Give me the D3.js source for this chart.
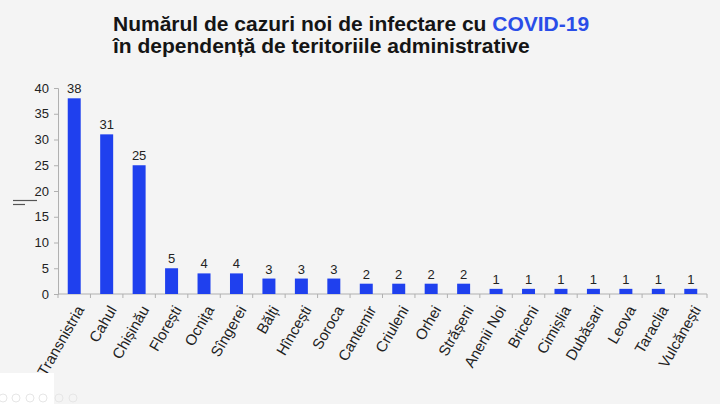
<!DOCTYPE html>
<html><head><meta charset="utf-8">
<script src="https://cdn.jsdelivr.net/npm/d3@7"></script>
<style>html,body{margin:0;padding:0;background:#f4f4f4;}svg{display:block;}</style>
</head><body>
<svg id="c" width="720" height="404"></svg>
<script>
const categories = ["Transnistria","Cahul","Chișinău","Florești","Ocnița","Sîngerei","Bălți","Hîncești","Soroca","Cantemir","Criuleni","Orhei","Strășeni","Anenii Noi","Briceni","Cimișlia","Dubăsari","Leova","Taraclia","Vulcănești"];
const values = [38,31,25,5,4,4,3,3,3,2,2,2,2,1,1,1,1,1,1,1];
const yTicks = [0,5,10,15,20,25,30,35,40];

(function(){
const svg = d3.select("#c");
const FONT = "Liberation Sans, Arial, sans-serif";
svg.append("rect").attr("width",720).attr("height",404).attr("fill","#f4f4f4");

const mLeft = 58, mRight = 707, mTop = 88, mBottom = 294;
const x = d3.scaleBand().domain(categories).range([mLeft,mRight]).paddingInner(0.6).paddingOuter(0.3);
const xb = d3.scaleBand().domain(categories).range([mLeft,mRight]);
const y = d3.scaleLinear().domain([0,40]).range([mBottom,mTop]);

// title
const t = svg.append("text").attr("font-family",FONT).attr("font-weight","bold").attr("font-size",21).attr("fill","#151515");
const l1 = t.append("tspan").attr("x",113).attr("y",31);
l1.append("tspan").text("Numărul de cazuri noi de infectare cu ");
l1.append("tspan").attr("fill","#2a4de8").text("COVID-19");
t.append("tspan").attr("x",113).attr("y",53).text("în dependență de teritoriile administrative");

// y axis
const ya = svg.append("g").attr("transform",`translate(${mLeft},0)`)
  .call(d3.axisLeft(y).tickValues(yTicks).tickSize(4).tickPadding(5));
ya.selectAll("path,line").attr("stroke","#b0b0b0");
ya.selectAll("text").attr("font-family",FONT).attr("font-size",13).attr("fill","#222");

// x axis
const xa = svg.append("g").attr("transform",`translate(0,${mBottom})`);
xa.append("line").attr("x1",mLeft).attr("x2",mRight).attr("y1",0).attr("y2",0).attr("stroke","#b0b0b0");
xa.selectAll("line.tk").data(categories.concat(["_end"])).enter().append("line").attr("class","tk")
  .attr("x1",(d,i)=> i<categories.length ? xb(d) : mRight).attr("x2",(d,i)=> i<categories.length ? xb(d) : mRight)
  .attr("y1",0).attr("y2",4).attr("stroke","#b0b0b0");
xa.selectAll("text").data(categories).enter().append("text")
  .attr("transform",d=>`translate(${x(d)+x.bandwidth()/2+6},13) rotate(-60)`)
  .attr("text-anchor","end").attr("dy","0.35em")
  .attr("font-family",FONT).attr("font-size",15).attr("fill","#222")
  .text(d=>d);

// bars
svg.selectAll("rect.bar").data(values).enter().append("rect").attr("class","bar")
  .attr("x",(d,i)=>x(categories[i])).attr("width",x.bandwidth())
  .attr("y",d=>y(d)).attr("height",d=>mBottom-y(d)).attr("fill","#1f40ee");

svg.selectAll("text.val").data(values).enter().append("text").attr("class","val")
  .attr("x",(d,i)=>x(categories[i])+x.bandwidth()/2).attr("y",d=>y(d)-5)
  .attr("text-anchor","middle").attr("font-family",FONT).attr("font-size",13).attr("fill","#222")
  .text(d=>d);

// stray marks left of axis
svg.append("line").attr("x1",13).attr("x2",37).attr("y1",200.5).attr("y2",200.5).attr("stroke","#555").attr("stroke-width",1.2);
svg.append("line").attr("x1",13).attr("x2",25).attr("y1",204.5).attr("y2",204.5).attr("stroke","#555").attr("stroke-width",1.2);

// slideshow control box
svg.append("rect").attr("x",0).attr("y",373).attr("width",54).attr("height",31).attr("fill","#ffffff");
[3,16,30,43,59,73].forEach(cx=>svg.append("circle").attr("cx",cx).attr("cy",398).attr("r",4).attr("fill","none").attr("stroke","#e6e6e6"));
})();
</script>
</body></html>
